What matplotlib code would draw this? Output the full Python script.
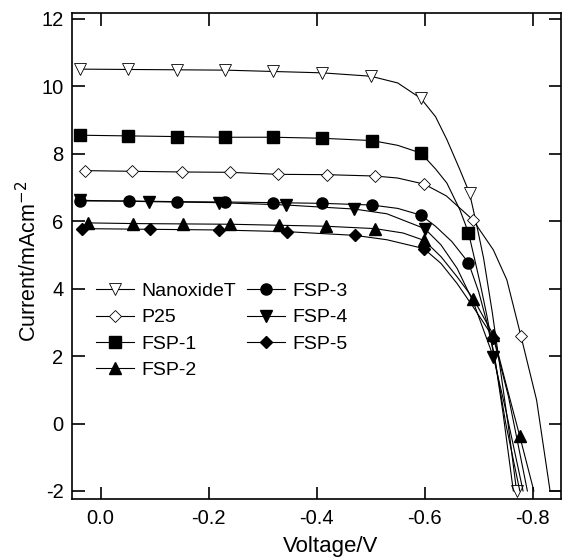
import matplotlib
matplotlib.use("Agg")
import matplotlib.pyplot as plt

plt.rcParams["font.family"] = ["Liberation Sans", "DejaVu Sans"]
plt.rcParams["axes.unicode_minus"] = False

# voltage / current; *_mk = indices that carry a marker
nano_v = [0.038, -0.051, -0.141, -0.231, -0.320, -0.410, -0.500, -0.55, -0.593, -0.62, -0.641,
          -0.665, -0.683, -0.696, -0.709, -0.725, -0.740, -0.755, -0.770]
nano_i = [10.51, 10.50, 10.49, 10.48, 10.44, 10.40, 10.30, 10.10, 9.64, 9.10, 8.42,
          7.53, 6.83, 5.90, 4.90, 3.30, 1.60, -0.10, -2.0]
nano_mk = [0, 1, 2, 3, 4, 5, 6, 8, 12, 18]

p25_v = [0.029, -0.059, -0.150, -0.239, -0.329, -0.419, -0.508, -0.55, -0.599, -0.64, -0.689,
         -0.727, -0.752, -0.778, -0.807, -0.832, -0.852]
p25_i = [7.50, 7.48, 7.46, 7.45, 7.39, 7.38, 7.34, 7.28, 7.10, 6.75, 6.04,
         5.15, 4.26, 2.60, 0.70, -2.0, -2.0]
p25_mk = [0, 1, 2, 3, 4, 5, 6, 8, 10, 13]

fsp1_v = [0.038, -0.051, -0.141, -0.231, -0.320, -0.410, -0.503, -0.55, -0.593, -0.62, -0.641,
          -0.665, -0.681, -0.692, -0.702, -0.715, -0.730, -0.745, -0.764]
fsp1_i = [8.55, 8.53, 8.51, 8.49, 8.49, 8.46, 8.39, 8.25, 8.02, 7.55, 7.13,
          6.34, 5.66, 4.90, 4.20, 3.20, 1.90, 0.30, -2.0]
fsp1_mk = [0, 1, 2, 3, 4, 5, 6, 8, 12]

fsp2_v = [0.023, -0.060, -0.152, -0.240, -0.330, -0.418, -0.508, -0.56, -0.599, -0.63, -0.66,
          -0.690, -0.727, -0.750, -0.776, -0.802]
fsp2_i = [5.95, 5.93, 5.92, 5.91, 5.88, 5.85, 5.78, 5.65, 5.43, 4.95, 4.35,
          3.70, 2.63, 1.20, -0.38, -2.0]
fsp2_mk = [0, 1, 2, 3, 4, 5, 6, 8, 11, 12, 14]

fsp3_v = [0.038, -0.052, -0.141, -0.231, -0.320, -0.410, -0.502, -0.55, -0.593, -0.62, -0.65,
          -0.681, -0.700, -0.715, -0.730, -0.750, -0.776]
fsp3_i = [6.60, 6.60, 6.58, 6.57, 6.55, 6.53, 6.48, 6.38, 6.18, 5.85, 5.40,
          4.77, 3.90, 3.00, 1.90, 0.0, -2.0]
fsp3_mk = [0, 1, 2, 3, 4, 5, 6, 8, 11]

fsp4_v = [0.038, -0.090, -0.219, -0.344, -0.470, -0.53, -0.600, -0.63, -0.66, -0.69, -0.727,
          -0.750, -0.782]
fsp4_i = [6.62, 6.58, 6.55, 6.48, 6.36, 6.22, 5.78, 5.30, 4.60, 3.60, 1.98,
          0.40, -2.0]
fsp4_mk = [0, 1, 2, 3, 4, 6, 10]

fsp5_v = [0.035, -0.091, -0.219, -0.345, -0.471, -0.53, -0.598, -0.63, -0.66, -0.69, -0.727,
          -0.755, -0.790]
fsp5_i = [5.78, 5.76, 5.74, 5.69, 5.58, 5.45, 5.19, 4.75, 4.15, 3.45, 2.55,
          0.80, -2.0]
fsp5_mk = [0, 1, 2, 3, 4, 6, 10]

series = [
    ("NanoxideT", nano_v, nano_i, nano_mk, "v", "white", 8),
    ("P25", p25_v, p25_i, p25_mk, "D", "white", 6),
    ("FSP-1", fsp1_v, fsp1_i, fsp1_mk, "s", "black", 8),
    ("FSP-2", fsp2_v, fsp2_i, fsp2_mk, "^", "black", 8),
    ("FSP-3", fsp3_v, fsp3_i, fsp3_mk, "o", "black", 8),
    ("FSP-4", fsp4_v, fsp4_i, fsp4_mk, "v", "black", 8),
    ("FSP-5", fsp5_v, fsp5_i, fsp5_mk, "D", "black", 6),
]

fig = plt.figure(figsize=(5.62, 5.57), dpi=100)
ax = fig.add_axes([0.128, 0.104, 0.870, 0.873])

for name, v, i, mk, marker, face, ms in series:
    ax.plot(v, i, color="black", lw=0.8, marker=marker, markevery=mk,
            markerfacecolor=face, markeredgecolor="black",
            markeredgewidth=0.6 if face == "white" else 1.0,
            markersize=ms, label=name)

ax.set_xlim(0.053, -0.852)
ax.set_ylim(-2.24, 12.18)
ax.set_xticks([0.0, -0.2, -0.4, -0.6, -0.8])
ax.set_xticklabels(["0.0", "-0.2", "-0.4", "-0.6", "-0.8"])
ax.set_yticks([-2, 0, 2, 4, 6, 8, 10, 12])

ax.tick_params(direction="in", length=9, width=1.2, top=True, right=True,
               labelsize=14.5)
ax.tick_params(axis="x", pad=7)
ax.tick_params(axis="y", pad=6)
for s in ax.spines.values():
    s.set_linewidth(1.2)

ax.set_xlabel("Voltage/V", fontsize=16)
ax.xaxis.set_label_coords(0.53, -0.075)
ax.set_ylabel("Current/mAcm$^{-2}$", fontsize=15.5)
ax.yaxis.set_label_coords(-0.062, 0.49)

ax.legend(loc="upper left", bbox_to_anchor=(0.049, 0.445), ncol=2, frameon=False,
          fontsize=14, handlelength=1.95, handletextpad=0.4, columnspacing=0.55,
          labelspacing=0.44, borderpad=0, borderaxespad=0)

fig.savefig("out.png", dpi=100)
